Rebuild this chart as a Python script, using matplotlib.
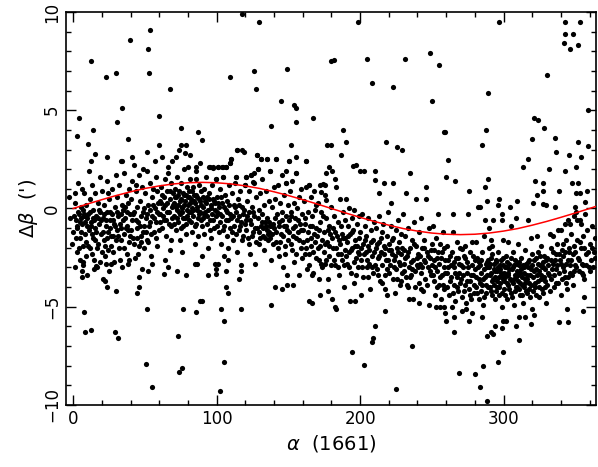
import numpy as np
import matplotlib
matplotlib.use("Agg")
import matplotlib.pyplot as plt
from matplotlib.ticker import MultipleLocator

# points well above the main band
top_pts = [
    (53.7, 9.10), (39.5, 8.59), (52.3, 8.10), (12.1, 7.51), (29.8, 6.90), (22.8, 6.70), (53.0, 6.90),
    (67.4, 6.10), (33.9, 5.10), (4.2, 4.59), (30.7, 4.39), (59.7, 4.70), (13.5, 4.00), (75.3, 4.11),
    (2.8, 3.70), (37.9, 3.53), (117.8, 9.89), (129.4, 9.49), (149.4, 7.08), (126.1, 7.00),
    (109.0, 6.70), (127.1, 6.10), (144.7, 5.49), (154.0, 5.29), (155.4, 5.10), (167.2, 4.59), (155.2, 4.39),
    (137.6, 4.19), (89.7, 3.50), (198.4, 9.49), (179.4, 7.49), (181.5, 7.57), (204.9, 7.59), (231.6, 7.59),
    (248.6, 7.89), (255.1, 7.30), (208.4, 6.39), (223.0, 6.19), (249.8, 5.49), (187.9, 4.00), (258.8, 3.88),
    (296.9, 9.49), (342.9, 9.49), (353.3, 9.49), (342.6, 8.89), (348.7, 8.89), (342.0, 8.40), (346.1, 8.10),
    (351.9, 8.30), (330.3, 6.80), (289.0, 5.90), (358.9, 5.00), (321.5, 4.59), (324.0, 4.49), (328.2, 4.11),
    (287.6, 4.00), (335.9, 3.61), (319.9, 3.53),
]

# upper edge of the band, left part
upper_left = [
    (10.0, 3.29), (60.0, 3.21), (75.1, 3.21), (78.5, 3.21), (51.4, 2.89), (15.4, 2.79), (23.9, 2.60),
    (33.0, 2.40), (34.2, 2.40), (12.3, 2.40), (81.3, 2.70), (79.7, 2.13), (11.2, 1.91), (86.7, 3.87),
    (114.5, 2.99), (118.0, 2.99), (151.5, 3.21), (177.2, 3.21), (127.8, 2.70), (130.8, 2.50), (135.4, 2.50),
    (141.7, 2.50), (109.9, 2.50), (109.6, 2.30), (85.9, 2.11), (95.2, 2.11), (97.6, 2.08), (101.0, 2.11),
    (104.0, 2.11), (106.4, 2.11), (150.3, 2.40), (162.1, 2.40), (148.7, 1.91), (137.0, 1.91), (128.9, 1.99),
    (124.3, 1.70), (120.3, 1.60), (126.1, 1.80), (113.8, 1.60), (99.9, 1.50), (104.5, 1.60), (85.7, 1.50),
    (155.6, 1.80), (164.5, 1.21), (171.9, 1.21), (176.5, 1.80), (148.7, 1.30), (119.6, 1.21), (125.4, 1.35),
]

# upper edge of the band, middle part
upper_mid = [
    (179.6, 3.21), (190.0, 3.38), (187.0, 2.70), (178.4, 2.11), (180.3, 1.91), (174.2, 1.26), (175.6, 1.18),
    (173.1, 0.84), (175.4, 0.67), (176.5, 0.42), (182.4, 1.52), (183.5, 1.09), (185.8, 0.50), (190.5, 0.50),
    (195.1, 2.14), (197.0, 2.23), (199.8, 1.89), (202.8, 1.89), (210.7, 1.89), (210.2, 1.43), (216.5, 1.31),
    (223.0, 1.31), (218.4, 3.38), (225.8, 3.12), (229.0, 2.99), (234.6, 1.80), (213.0, 0.81), (221.8, 0.30),
    (232.1, 0.81), (238.8, 0.50), (245.8, 0.50), (246.2, 1.09), (259.0, 3.89), (261.1, 2.48), (259.9, 1.60),
    (266.4, 1.40),
]

# upper edge of the band, right part
upper_right = [
    (284.8, 3.21), (336.4, 2.90), (351.9, 3.38), (358.9, 3.17), (345.7, 2.70), (354.3, 2.60), (317.3, 2.50),
    (313.8, 2.09), (331.5, 2.01), (342.6, 1.89), (350.5, 2.11), (275.7, 0.91), (286.9, 1.08), (289.2, 1.50),
    (321.7, 1.40), (327.8, 1.30), (327.8, 0.91), (323.4, 0.70), (338.7, 0.89), (348.0, 1.31), (352.2, 1.31),
    (350.3, 0.81), (353.6, 0.81), (358.4, 0.91), (288.7, 0.40), (296.6, 0.50), (309.4, 0.40), (320.3, 0.30),
    (327.5, 0.21), (356.8, 0.32), (282.2, 0.10), (283.9, 0.10), (275.3, -0.29), (265.0, -0.29), (296.2, 0.19),
    (299.2, -0.29), (304.3, 0.10), (329.9, 0.19), (335.9, 0.09), (349.6, 0.10), (350.3, -0.18), (356.6, -0.29),
    (349.2, -0.40), (351.2, -0.60), (286.9, -0.60), (292.9, -0.60), (299.2, -0.60), (309.0, -0.50),
    (317.3, -0.60), (289.9, -1.00), (305.2, -0.90), (342.6, -0.80), (345.0, -0.60), (346.1, -0.80),
    (353.1, -0.60), (354.3, -0.80), (338.0, -1.10), (340.3, -1.10), (332.2, -1.28), (334.5, -1.41),
    (264.8, -1.19), (286.4, -1.41), (318.9, -1.50), (323.4, -1.41), (299.7, -1.60), (291.5, -1.60),
    (278.3, -1.70), (281.1, -1.70), (273.0, -1.90), (270.9, -2.05),
]

# points below the band
low_pts = [
    (1.0, -2.98), (5.9, -3.19), (6.3, -3.49), (6.8, -2.70), (14.2, -3.10), (15.8, -2.92), (22.6, -2.80),
    (26.1, -2.80), (20.5, -3.59), (22.1, -3.68), (23.3, -4.00), (30.0, -4.19), (38.8, -2.63), (46.0, -3.49),
    (45.8, -4.00), (44.6, -4.31), (51.4, -5.10), (63.4, -3.31), (65.8, -3.00), (72.3, -3.20), (78.5, -3.41),
    (76.9, -5.10), (85.5, -5.29), (88.3, -4.71), (85.0, -2.80), (86.0, -2.80), (7.2, -5.29), (8.4, -6.28),
    (12.5, -6.20), (29.1, -6.28), (31.4, -6.61), (73.4, -6.50), (51.1, -7.89), (74.1, -8.30), (76.2, -8.10),
    (55.1, -9.09), (101.3, -2.80), (107.6, -2.63), (99.9, -3.10), (99.9, -3.31), (94.1, -3.39),
    (106.2, -3.20), (106.4, -4.00), (107.6, -4.31), (115.7, -3.59), (89.5, -4.69), (103.1, -5.10),
    (105.2, -5.71), (117.3, -5.10), (105.0, -7.79), (102.2, -9.30), (137.6, -4.90), (141.0, -4.00),
    (145.4, -4.10), (148.9, -3.90), (153.1, -3.90), (149.1, -3.41), (163.3, -3.10), (166.6, -3.41),
    (171.7, -3.59), (164.7, -4.69), (166.8, -4.80), (171.9, -4.39), (177.3, -4.19), (175.4, -2.80),
    (217.7, -5.20), (210.5, -6.00), (209.1, -6.61), (208.4, -6.79), (194.4, -7.30), (202.4, -7.99),
    (236.2, -6.99), (225.1, -9.19), (269.0, -8.38), (265.5, -6.30), (265.8, -5.51), (259.9, -5.71),
    (259.0, -5.34), (253.2, -5.00), (256.0, -5.00), (258.8, -5.00), (183.1, -5.10), (182.4, -5.00),
    (180.5, -4.59), (193.3, -4.73), (196.8, -4.73), (200.5, -4.39), (241.4, -4.80), (234.1, -4.59),
    (217.4, -4.10), (280.1, -8.40), (283.6, -9.09), (288.5, -9.80), (285.7, -8.01), (296.2, -7.79),
    (299.7, -7.30), (310.8, -6.71), (288.3, -6.50), (291.1, -6.30), (292.7, -6.40), (298.9, -6.10),
    (299.7, -5.71), (301.5, -5.71), (308.5, -6.00), (319.4, -5.90), (315.3, -5.51), (310.6, -5.51),
    (293.9, -6.00), (338.5, -5.79), (345.2, -5.79), (355.7, -5.20), (344.5, -5.10), (356.1, -4.49),
    (276.2, -5.71), (285.0, -5.51), (270.9, -5.20), (274.1, -5.10), (277.8, -5.30), (320.1, -5.10),
    (321.0, -5.41),
]

# main band, alpha 0-60
band_a = [
    (-3, 0.6), (-2, -0.5), (-1, -1.8), (0, -1.2), (1, 0.8), (1.5, 0.3), (2, -0.6), (2.5, -2.2), (3, -1.0),
    (3.5, 1.3), (4, -0.3), (4.5, -1.5), (5, -2.6), (5.5, 0.1), (6, 1.0), (6.2, -0.8), (6.8, -1.9), (7.5, 0.8),
    (7.8, -0.4), (8.3, -1.3), (8.8, -2.4), (9.2, 0.2), (9.6, -0.9), (9.9, -3.4), (3.2, -0.2), (5.2, -0.5),
    (7.0, -0.1), (8.0, -0.7),
    (10.5, -0.3), (11, -1.1), (11.5, 0.5), (12, -2.0), (12.5, -0.7), (13, 1.2), (13.5, -1.5), (14, -0.1),
    (14.5, -2.6), (15, 0.8), (15.5, -1.0), (16, -0.4), (16.5, -3.0), (17, 0.3), (17.5, -1.8), (18, -0.8),
    (18.5, 1.6), (19, -0.2), (19.5, -1.3), (19.8, -2.2), (12.8, -1.3), (14.8, -0.6), (17.2, -0.5),
    (20.3, 0.9), (20.8, -0.5), (21.3, -1.6), (21.8, 0.2), (22.3, -2.4), (22.8, -0.9), (23.3, 1.4), (23.8, -0.2),
    (24.3, -1.2), (24.8, -3.2), (25.3, 0.5), (25.8, -0.6), (26.3, -1.9), (26.8, 1.0), (27.3, -0.3),
    (27.8, -1.4), (28.3, -2.7), (28.8, 0.1), (29.3, -0.9), (29.8, 1.7), (24.0, 0.8), (26.0, -1.0), (28.0, -0.6),
    (30.2, -1.1), (30.7, 0.6), (31.2, -0.4), (31.7, -2.0), (32.2, 1.2), (32.7, -0.8), (33.2, -1.6), (33.7, 0.2),
    (34.2, -3.0), (34.7, -0.1), (35.2, 1.8), (35.7, -1.3), (36.2, -0.5), (36.7, 0.7), (37.2, -2.3),
    (37.7, -0.9), (38.2, 0.3), (38.7, -1.7), (39.2, 1.0), (39.7, -0.3), (33.0, -0.3), (36.0, 0.1), (38.0, -1.1),
    (40.2, 0.5), (40.7, -0.6), (41.2, 1.4), (41.7, -1.5), (42.2, -0.2), (42.7, 2.2), (43.2, -2.5), (43.7, 0.9),
    (44.2, -1.0), (44.7, 0.1), (45.2, -0.7), (45.7, 1.7), (46.2, -1.9), (46.7, 0.4), (47.2, -0.4),
    (47.7, -3.1), (48.2, 1.1), (48.7, -1.2), (49.2, 0.0), (49.7, -0.9), (41.0, 2.6), (44.0, 1.2), (47.0, -1.4),
    (49.0, 2.0),
    (50.2, 0.8), (50.7, -0.5), (51.2, 1.9), (51.7, -1.6), (52.2, 0.2), (52.7, -0.9), (53.2, 1.3), (53.7, -0.1),
    (54.2, -2.4), (54.7, 0.6), (55.2, -0.4), (55.7, 1.0), (56.2, -1.2), (56.7, 2.4), (57.2, 0.0), (57.7, -0.7),
    (58.2, 0.9), (58.7, -1.9), (59.2, 0.3), (59.7, -0.3), (52.0, -3.2), (55.0, -2.8), (58.0, 1.6),
]

# main band, alpha 60-120
band_b = [
    (60.2, 0.4), (60.7, -0.3), (61.2, 1.1), (61.7, -1.0), (62.2, 0.7), (62.7, 0.0), (63.2, -0.6), (63.7, 1.5),
    (64.2, 0.2), (64.7, -1.4), (65.2, 0.9), (65.7, -0.2), (66.2, 2.1), (66.7, -0.8), (67.2, 0.5), (67.7, -2.1),
    (68.2, 1.3), (68.7, 0.1), (69.2, -0.5), (69.7, 0.8), (62.0, 2.6), (64.0, -2.6), (66.0, 1.8), (68.0, -1.6),
    (69.0, 2.4),
    (70.2, 0.3), (70.6, -0.4), (71.0, 1.0), (71.4, -1.1), (71.8, 0.6), (72.2, -0.1), (72.6, 1.6), (73.0, 0.2),
    (73.4, -0.7), (73.8, 0.9), (74.2, -0.3), (74.6, -1.6), (75.0, 0.5), (75.4, 1.3), (75.8, -0.2), (76.2, 0.0),
    (76.6, -0.9), (77.0, 0.7), (77.4, 2.0), (77.8, -0.5), (78.2, 0.4), (78.6, -1.3), (79.0, 1.1), (79.4, -0.1),
    (79.8, 0.6), (72.0, 2.6), (76.0, -2.2), (78.0, 2.8), (74.0, 3.0),
    (80.2, 0.2), (80.6, -0.6), (81.0, 0.9), (81.4, 1.5), (81.8, -0.2), (82.2, 0.5), (82.6, -1.2), (83.0, 0.0),
    (83.4, 1.1), (83.8, -0.4), (84.2, 0.7), (84.6, -1.8), (85.0, 0.3), (85.4, 1.9), (85.8, -0.8), (86.2, -0.1),
    (86.6, 0.6), (87.0, -1.4), (87.4, 1.2), (87.8, -0.3), (88.2, 0.4), (88.6, 2.3), (89.0, -0.6), (89.4, 0.9),
    (89.8, -2.4),
    (90.2, 0.1), (90.6, -0.5), (91.0, 1.0), (91.4, -1.3), (91.8, 0.4), (92.2, -0.2), (92.6, 1.6), (93.0, -0.8),
    (93.4, 0.6), (93.8, -2.0), (94.2, -0.1), (94.6, 0.8), (95.0, 2.1), (95.4, -0.6), (95.8, 0.2), (96.2, -1.5),
    (96.6, 1.2), (97.0, -0.3), (97.4, 2.1), (97.8, 0.5), (98.2, -1.0), (98.6, -2.8), (99.0, 0.3), (99.4, -0.4),
    (99.8, 1.5),
    (100.2, -0.2), (100.6, 0.6), (101.0, 2.1), (101.4, -1.2), (101.8, 0.1), (102.2, -0.7), (102.6, 1.0),
    (103.0, -1.8), (103.4, 0.3), (103.8, -0.4), (104.2, 2.1), (104.6, 1.6), (105.0, -2.4), (105.4, -0.9),
    (105.8, 0.7), (106.2, -0.1), (106.6, 2.1), (107.0, -1.4), (107.4, 0.4), (107.8, -2.0), (108.2, -0.6),
    (108.6, 1.2), (109.0, -0.3), (109.6, 2.3), (109.9, 2.5),
    (110.3, -0.5), (110.8, 0.8), (111.3, -1.6), (111.8, 0.2), (112.3, -0.9), (112.8, 1.3), (113.3, -0.2),
    (113.8, 1.6), (114.3, -2.2), (114.8, 0.5), (115.3, -1.1), (115.8, -0.4), (116.3, 0.9), (116.8, -2.9),
    (117.3, -0.7), (117.8, 0.1), (118.3, -1.4), (118.8, 2.9), (119.3, -0.1), (119.8, 1.2), (114.5, 3.0),
    (117.0, -3.2),
]

# main band, alpha 120-180
band_c = [
    (120.3, 1.6), (120.8, -0.6), (121.3, 0.4), (121.8, -1.5), (122.3, -0.2), (122.8, 0.9), (123.3, -2.3),
    (123.8, -0.8), (124.3, 1.7), (124.8, 0.1), (125.3, -1.2), (125.8, 1.3), (126.3, -0.4), (126.8, -2.8),
    (127.3, 0.6), (127.8, 2.7), (128.3, -1.0), (128.8, 2.0), (129.3, -0.1), (129.8, -1.8), (130.8, 2.5),
    (130.3, 0.8), (130.8, -0.9), (131.3, -0.3), (131.8, 1.5), (132.3, -1.4), (132.8, 0.2), (133.3, -2.1),
    (133.8, -0.7), (134.3, 0.9), (134.8, -1.1), (135.3, -0.5), (135.4, 2.5), (135.8, -1.6), (136.3, 0.4),
    (136.8, -1.2), (137.0, 1.9), (137.3, -0.9), (137.8, -2.6), (138.3, -1.3), (138.8, 0.1), (139.3, -0.8),
    (139.8, 1.1),
    (140.3, -1.0), (140.8, 0.5), (141.3, -1.7), (141.7, 2.5), (142.3, -0.3), (142.8, 1.2), (143.3, -2.4),
    (143.8, -0.7), (144.3, 0.3), (144.8, -1.3), (145.3, 1.7), (145.8, -0.2), (146.3, -3.0), (146.8, -0.9),
    (147.3, 0.7), (147.8, -1.9), (148.3, -0.4), (148.7, 1.3), (149.3, -1.1), (149.8, 0.2), (150.3, 2.4),
    (150.6, -0.6), (151.1, 0.9), (151.6, -1.8), (152.1, -0.2), (152.6, 1.4), (153.1, -1.0), (153.6, -2.7),
    (154.1, 0.3), (154.6, -0.5), (155.1, -1.5), (155.6, 1.8), (156.1, 0.0), (156.6, -1.2), (157.1, -3.4),
    (157.6, 0.6), (158.1, -0.8), (158.6, -2.0), (159.1, 1.0), (159.6, -0.3), (155.0, 2.6),
    (160.3, -1.1), (160.8, 0.4), (161.3, -2.3), (161.8, -0.5), (162.1, 2.4), (162.6, 1.1), (163.1, -1.6),
    (163.6, -0.2), (164.1, -2.9), (164.5, 1.2), (165.1, -0.9), (165.6, 0.6), (166.1, -1.9), (166.6, -0.4),
    (167.1, -3.3), (167.6, 0.9), (168.1, -1.3), (168.6, -0.1), (169.1, -2.5), (169.6, 0.2),
    (170.3, -1.4), (170.8, 0.3), (171.3, -2.6), (171.8, -0.7), (172.3, -1.9), (172.8, -0.2), (173.6, -3.0),
    (174.6, -1.2), (175.1, -2.2), (176.1, -0.5), (177.1, -1.7), (177.6, -3.6), (178.1, -0.9), (178.6, -2.4),
    (179.1, -1.3), (179.6, 0.1),
]

# main band, alpha 180-260
band_d = [
    (180.8, -1.0), (181.3, -2.0), (181.8, -0.4), (182.8, -2.9), (183.8, -1.4), (184.3, -0.7), (184.8, -2.3),
    (185.3, -3.4), (186.3, -1.8), (186.8, -0.9), (187.3, -2.6), (187.8, -0.2), (188.3, -1.5), (188.8, -4.0),
    (189.3, -2.1), (189.8, -0.6),
    (190.6, -1.7), (191.1, -2.8), (191.6, -0.9), (192.1, -2.2), (192.6, 0.0), (193.1, -1.3), (193.6, -3.3),
    (194.1, -0.5), (194.6, -2.0), (195.1, -1.1), (195.6, -3.8), (196.1, -0.1), (196.6, -1.6), (197.1, -2.5),
    (197.6, -0.8), (198.1, -1.9), (198.6, -3.0), (199.1, -0.4), (199.6, -2.3),
    (200.3, -1.2), (200.8, -2.6), (201.3, -0.3), (201.8, -1.8), (202.3, -3.5), (203.3, -0.9), (203.8, -2.2),
    (204.3, -1.4), (204.8, -3.0), (205.3, -0.5), (205.8, -1.9), (206.3, -2.8), (206.8, -4.1), (207.3, -1.1),
    (208.3, -2.4), (208.8, -1.6), (209.3, -3.3), (209.8, -0.7),
    (210.9, -2.0), (211.4, -1.0), (211.9, -3.1), (212.4, -2.5), (212.9, -0.4), (213.5, -1.7), (214.0, -3.7),
    (214.5, -2.2), (215.0, -1.2), (215.5, -2.9), (216.0, -0.8), (217.0, -1.9), (217.5, -3.4), (218.0, -2.6),
    (218.5, -1.4), (219.0, -4.4), (219.5, -0.2), (219.9, -2.1),
    (220.3, -1.8), (220.8, -2.9), (221.3, -0.9), (222.3, -2.3), (222.8, -3.6), (223.3, -1.5), (223.8, -2.6),
    (224.3, -4.3), (224.8, -1.1), (225.3, -3.1), (225.8, -2.0), (226.3, -0.6), (226.8, -2.7), (227.3, -1.7),
    (227.8, -3.9), (228.3, -2.3), (228.8, -1.3), (229.3, -3.3), (229.8, -0.3),
    (230.3, -2.1), (230.8, -2.8), (231.3, -1.4), (231.8, -3.5), (232.6, -2.4), (233.1, -4.0), (233.6, -1.0),
    (234.1, -3.0), (235.1, -2.0), (235.6, -3.4), (236.1, -1.6), (236.6, -4.6), (237.1, -2.6), (237.6, -0.7),
    (238.1, -3.2), (239.1, -1.9), (239.6, -2.9),
    (240.3, -2.3), (240.8, -3.8), (241.3, -1.2), (241.8, -2.8), (242.3, -3.3), (242.8, -0.5), (243.3, -2.0),
    (243.8, -4.2), (244.3, -2.6), (244.8, -1.6), (245.3, -3.6), (246.8, -2.2), (247.3, -3.0), (247.8, -1.0),
    (248.3, -4.9), (248.8, -2.5), (249.3, -3.4), (249.8, -1.8),
    (250.3, -2.9), (250.8, -0.9), (251.3, -3.7), (251.8, -2.1), (252.3, -4.4), (252.8, -1.5), (253.3, -3.2),
    (253.8, -2.5), (254.3, -0.3), (254.8, -3.9), (255.3, -2.8), (255.8, -1.8), (256.3, -4.6), (256.8, -3.4),
    (257.3, -2.2), (257.8, -1.2), (258.3, -3.0), (258.8, -4.1), (259.3, -2.6),
]

# main band, alpha 260-365
band_e = [
    (260.3, -1.9), (260.8, -3.3), (261.3, -2.6), (261.8, -4.4), (262.8, -3.7), (263.3, -2.9), (263.8, -5.0),
    (264.3, -2.2), (265.3, -3.9), (265.8, -3.0), (266.3, -4.7), (266.8, -2.5), (267.3, -3.5), (267.8, -1.7),
    (268.3, -4.2), (268.8, -2.8), (269.3, -3.3), (269.8, -2.0),
    (270.3, -3.6), (271.3, -4.5), (271.8, -3.0), (272.3, -2.4), (273.3, -3.9), (273.8, -4.8), (274.3, -2.7),
    (274.8, -3.3), (275.8, -4.1), (276.3, -2.2), (276.8, -3.7), (277.3, -4.6), (277.8, -2.9), (278.8, -3.4),
    (279.3, -4.3), (279.8, -2.6),
    (280.3, -3.1), (280.8, -4.0), (281.6, -2.5), (282.6, -3.6), (283.1, -4.6), (283.6, -2.9), (284.3, -3.3),
    (284.8, -3.9), (285.3, -2.2), (285.8, -4.9), (287.3, -3.5), (287.8, -4.3), (288.3, -2.7), (288.8, -3.0),
    (289.3, -4.0), (289.6, -2.0),
    (290.3, -3.4), (290.8, -2.8), (291.3, -4.2), (291.8, -3.7), (292.3, -2.3), (293.3, -3.1), (293.8, -4.6),
    (294.3, -3.5), (294.8, -2.6), (295.3, -4.0), (295.8, -3.2), (296.8, -4.4), (297.3, -2.9), (297.8, -3.8),
    (298.3, -3.3), (298.8, -5.0), (299.3, -2.5), (299.8, -3.6), (292.0, -1.9), (296.0, -2.2),
    (300.3, -4.1), (300.8, -3.0), (301.3, -3.5), (301.8, -2.4), (302.3, -4.6), (302.8, -3.3), (303.3, -3.9),
    (303.8, -2.8), (304.6, -3.6), (305.4, -4.3), (305.8, -3.1), (306.3, -2.2), (306.8, -3.8), (307.3, -4.9),
    (307.8, -3.4), (308.3, -2.6), (308.8, -4.0), (309.3, -3.2), (309.8, -1.8), (303.0, -1.7),
    (310.3, -3.7), (310.8, -2.9), (311.3, -4.4), (311.8, -3.3), (312.3, -2.5), (312.8, -3.9), (313.3, -4.8),
    (314.3, -3.0), (314.8, -3.6), (315.3, -2.1), (315.8, -4.2), (316.3, -3.4), (316.8, -2.7), (317.8, -3.8),
    (318.3, -4.5), (319.3, -3.1), (319.8, -2.3),
    (320.8, -3.5), (321.3, -2.6), (322.3, -4.0), (322.8, -3.1), (323.8, -2.2), (324.3, -3.7), (324.8, -4.5),
    (325.3, -2.9), (325.8, -3.4), (326.3, -1.9), (326.8, -4.1), (327.8, -3.0), (328.3, -2.4), (328.8, -3.7),
    (329.3, -4.8),
    (330.3, -2.5), (330.8, -3.3), (332.8, -2.0), (333.3, -3.6), (334.8, -2.8), (335.3, -4.0), (336.3, -2.3),
    (336.8, -3.1), (337.3, -1.8), (338.3, -3.8), (339.3, -2.6), (339.8, -4.4),
    (340.8, -2.1), (341.3, -3.0), (341.8, -2.4), (342.9, -3.5), (343.4, -1.6), (343.9, -2.8), (344.4, -4.1),
    (345.4, -2.2), (346.4, -3.3), (346.9, -1.3), (347.4, -2.6), (348.4, -3.9), (348.9, -1.9), (349.9, -2.9),
    (351.4, -1.6), (351.9, -2.5), (352.4, -3.2), (353.9, -2.0), (354.9, -2.8), (355.4, -1.4), (355.7, -3.4),
    (356.0, -3.6), (357.4, -2.3), (358.0, -1.1), (359.5, -3.0), (360.2, -1.8), (361.0, -2.6), (362.0, -0.9),
    (363.0, -2.2), (364.0, -1.5), (355.7, -2.9),
]

# core of the band, where the dots overlap most
core_a = [
    (0.5, -0.4), (1.8, -1.5), (2.7, -0.9), (3.8, -2.0), (4.6, -0.7), (5.7, -1.2), (6.5, -2.9), (7.3, -0.3),
    (8.6, -1.7), (9.4, -0.5), (10.2, -1.9), (11.8, -0.2), (12.2, -0.9), (13.2, -2.3), (13.8, -0.5),
    (15.2, -1.6), (16.2, -1.2), (16.8, -2.0), (17.8, -0.1), (18.7, -2.7), (19.2, -0.6), (20.5, -1.2),
    (21.5, -0.3), (22.0, -1.9), (23.0, -0.6), (23.5, -1.5), (24.5, -2.1), (25.5, -0.2), (26.5, -1.4),
    (27.5, -2.2), (28.5, -0.8), (29.5, -1.6), (30.5, -0.2), (31.5, -1.4), (32.5, -2.6), (33.5, -1.0),
    (34.5, -0.6), (35.5, -2.0), (36.5, -1.0), (37.5, -0.2), (38.5, -2.8), (39.5, -1.4), (40.5, -1.1),
    (41.5, -0.3), (42.5, -1.8), (43.5, -0.6), (44.5, -1.5), (45.5, -2.3), (46.5, -0.9), (47.5, -1.7),
    (48.5, -0.2), (49.5, -2.0), (50.5, -1.2), (51.5, -0.3), (52.5, -1.7), (53.5, -0.7), (54.5, -1.3),
    (55.5, 0.2), (56.5, -0.5), (57.5, -1.5), (58.5, -0.2), (59.5, -1.1),
    (60.5, -0.7), (61.5, 0.3), (62.5, -0.4), (63.5, 0.6), (64.5, -0.6), (65.5, 0.3), (66.5, -0.2), (67.5, 0.9),
    (68.5, -0.9), (69.5, 0.2), (70.4, -0.8), (70.9, 0.6), (71.6, 0.1), (72.4, -0.5), (72.9, 0.7), (73.6, -0.2),
    (74.4, 0.4), (74.9, -1.0), (75.6, 0.1), (76.4, 0.8), (76.9, -0.5), (77.6, 0.2), (78.4, -0.8), (78.9, 0.7),
    (79.6, -0.4), (80.4, 0.6), (80.9, -0.2), (81.6, 0.3), (82.4, -0.7), (82.9, 0.9), (83.6, -0.1), (84.4, 0.4),
    (84.9, -0.9), (85.6, 0.7), (86.4, 0.1), (86.9, -0.5), (87.6, 0.5), (88.4, -0.2), (88.9, 0.2), (89.6, -0.9),
    (90.4, 0.6), (91.2, -0.3), (92.4, 0.3), (93.2, -0.4), (94.4, 0.5), (95.2, -1.1), (96.4, 0.0), (97.2, -0.6),
    (98.4, 0.4), (99.2, -0.1), (100.4, -0.9), (101.2, 0.3), (102.4, -0.3), (103.2, 0.6), (104.4, -1.1),
    (105.2, 0.1), (106.4, -0.6), (107.2, -0.2), (108.4, 0.2), (109.2, -1.0), (110.5, -1.2), (111.5, -0.4),
    (112.5, 0.1), (113.5, -1.3), (114.5, -0.6), (115.5, 0.2), (116.5, -0.9), (117.5, -1.6), (118.5, -0.3),
    (119.5, -0.8),
]

core_b = [
    (120.5, -1.1), (121.5, -0.4), (122.5, -1.8), (123.5, -0.6), (124.5, -1.4), (125.5, -0.2), (126.5, -1.0),
    (127.5, -1.7), (128.5, -0.5), (129.5, -1.2), (130.5, -1.5), (131.5, -0.7), (132.5, -1.0), (133.5, -1.5),
    (134.5, -0.9), (135.5, -1.3), (136.5, -0.7), (137.5, -1.5), (138.5, -0.9), (139.5, -1.8), (140.5, -0.5),
    (141.5, -1.2), (142.5, -2.0), (143.5, -0.9), (144.5, -1.7), (145.5, -0.6), (146.5, -1.4), (147.5, -2.3),
    (148.5, -0.9), (149.5, -1.6), (150.5, -1.2), (151.5, -0.4), (152.5, -2.1), (153.5, -1.4), (154.5, -0.9),
    (155.5, -2.3), (156.5, -0.6), (157.5, -1.6), (158.5, -1.1), (159.5, -2.5), (160.5, -1.7), (161.5, -0.8),
    (162.5, -2.0), (163.5, -1.2), (164.5, -2.3), (165.5, -1.5), (166.5, -0.9), (167.5, -2.2), (168.5, -1.7),
    (169.5, -1.0), (170.5, -2.0), (171.5, -1.1), (172.5, -2.8), (173.5, -1.6), (174.5, -0.4), (175.5, -1.8),
    (176.5, -2.6), (177.5, -1.1), (178.5, -1.9), (179.5, -2.9), (180.5, -1.5), (181.5, -2.6), (182.5, -1.2),
    (183.5, -2.0), (184.5, -3.0), (185.5, -1.6), (186.5, -2.3), (187.5, -1.3), (188.5, -2.9), (189.5, -1.5),
    (190.5, -2.4), (191.5, -1.4), (192.5, -3.0), (193.5, -2.1), (194.5, -1.2), (195.5, -2.7), (196.5, -1.9),
    (197.5, -3.4), (198.5, -2.2), (199.5, -1.5),
    (200.5, -2.0), (201.5, -3.0), (202.5, -2.3), (203.5, -1.6), (204.5, -2.6), (205.5, -3.5), (206.5, -2.1),
    (207.5, -1.7), (208.5, -3.0), (209.5, -2.2), (210.5, -2.9), (211.5, -1.8), (212.5, -3.4), (213.5, -2.4),
    (214.5, -1.5), (215.5, -3.8), (216.5, -2.3), (217.5, -2.0), (218.5, -3.1), (219.5, -2.6), (220.5, -3.3),
    (221.5, -2.1), (222.5, -1.6), (223.5, -3.0), (224.5, -2.4), (225.5, -3.6), (226.5, -2.2), (227.5, -2.9),
    (228.5, -3.7), (229.5, -2.0), (230.5, -3.2), (231.5, -2.5), (232.5, -3.9), (233.5, -2.2), (234.5, -3.5),
    (235.5, -2.7), (236.5, -3.1), (237.5, -1.8), (238.5, -4.0), (239.5, -2.5), (240.5, -3.0), (241.5, -2.4),
    (242.5, -4.1), (243.5, -3.0), (244.5, -2.0), (245.5, -2.7), (246.5, -3.9), (247.5, -2.4), (248.5, -3.2),
    (249.5, -2.1), (250.5, -3.4), (251.5, -2.6), (252.5, -3.0), (253.5, -4.0), (254.5, -2.2), (255.5, -3.5),
    (256.5, -2.5), (257.5, -3.9), (258.5, -2.0), (259.5, -3.3), (260.5, -4.0), (261.5, -3.0), (262.5, -2.4),
    (263.5, -3.5), (264.5, -4.3), (265.5, -2.7), (266.5, -3.3), (267.5, -4.0), (268.5, -2.5), (269.5, -3.8),
    (270.5, -2.9), (271.5, -3.4), (272.5, -4.2), (273.5, -2.5), (274.5, -3.7), (275.5, -3.0), (276.5, -4.4),
    (277.5, -3.4), (278.5, -2.4), (279.5, -3.9),
]

core_c = [
    (280.5, -3.5), (281.3, -4.3), (282.0, -3.0), (282.8, -2.7), (283.4, -3.8), (284.1, -4.2), (284.6, -2.6),
    (285.5, -3.6), (286.2, -3.1), (286.7, -4.5), (287.5, -2.8), (288.1, -3.9), (288.6, -3.4), (289.5, -2.6),
    (290.1, -3.0), (290.6, -4.0), (291.1, -3.3), (291.6, -2.5), (292.1, -4.4), (292.6, -3.6), (293.1, -2.8),
    (293.6, -3.9), (294.1, -3.2), (294.6, -4.2), (295.1, -2.7), (295.6, -3.7), (296.1, -3.0), (296.6, -3.5),
    (297.1, -4.0), (297.6, -3.1), (298.1, -2.6), (298.6, -4.3), (299.1, -3.4), (299.6, -2.9), (300.1, -3.7),
    (300.6, -3.3), (301.1, -4.4), (301.6, -3.0), (302.1, -3.8), (302.6, -2.7), (303.1, -3.4), (303.6, -4.1),
    (304.1, -3.1), (304.9, -2.5), (305.6, -3.7), (306.1, -4.5), (306.6, -3.0), (307.1, -3.6), (307.6, -2.9),
    (308.1, -4.2), (308.6, -3.5), (309.1, -2.8), (309.6, -4.0), (310.1, -3.4), (310.6, -4.1), (311.1, -2.7),
    (311.6, -3.8), (312.1, -3.1), (312.6, -4.4), (313.1, -3.5), (313.6, -2.9), (314.1, -4.0), (314.6, -3.3),
    (315.1, -3.8), (315.6, -2.8), (316.1, -4.3), (316.6, -3.6), (317.1, -3.0), (317.6, -4.1), (318.1, -2.6),
    (318.6, -3.4), (319.1, -3.9), (319.6, -2.9), (320.5, -4.2), (321.0, -3.2), (321.8, -3.8), (322.5, -2.5),
    (323.0, -4.4), (323.6, -3.4), (324.0, -2.8), (324.6, -3.2), (325.0, -4.0), (325.6, -2.4), (326.0, -3.6),
    (326.6, -3.0), (327.2, -4.3), (327.6, -2.7), (328.0, -3.5), (328.6, -4.0), (329.0, -3.1), (329.6, -2.6),
    (330.6, -3.9), (331.2, -2.9), (331.8, -3.4), (332.4, -4.2), (333.0, -2.6), (333.8, -3.1), (334.2, -2.2),
    (335.0, -3.4), (335.8, -2.6), (336.6, -3.8), (337.6, -2.9), (338.6, -2.3), (339.0, -3.3), (340.0, -2.8),
    (340.5, -3.6), (341.6, -1.8), (342.2, -3.2), (343.0, -2.2), (343.6, -3.8), (344.8, -2.6), (345.2, -3.5),
    (346.0, -2.0), (346.6, -2.9), (347.6, -3.4), (348.2, -2.3), (349.0, -3.2), (350.0, -2.2), (350.8, -3.0),
    (352.8, -2.6), (353.4, -1.7), (354.4, -3.3), (356.4, -2.0), (357.8, -2.9), (359.0, -2.2), (360.6, -3.2),
    (361.6, -2.0), (362.6, -3.0), (363.6, -2.5),
]

curve_x = [0, 10, 20, 30, 40, 50, 60, 70, 80, 90, 100, 110, 120, 130, 140, 150, 160, 170, 180,
           190, 200, 210, 220, 230, 240, 250, 260, 270, 280, 290, 300, 310, 320, 330, 340, 350, 360, 365]
curve_y = [0.0, 0.23, 0.45, 0.66, 0.85, 1.02, 1.15, 1.25, 1.31, 1.33, 1.31, 1.25, 1.15, 1.02, 0.85,
           0.66, 0.45, 0.23, 0.0, -0.23, -0.45, -0.66, -0.85, -1.02, -1.15, -1.25, -1.31, -1.33, -1.31,
           -1.25, -1.15, -1.02, -0.85, -0.66, -0.45, -0.23, 0.0, 0.12]

groups = [top_pts, upper_left, upper_mid, upper_right, low_pts,
          band_a, band_b, band_c, band_d, band_e, core_a, core_b, core_c]
pts = np.array([p for g in groups for p in g])

plt.rcParams["font.family"] = ["DejaVu Sans"]
fig = plt.figure(figsize=(5.98, 4.67), dpi=100)
ax = fig.add_axes([0.1104, 0.1328, 0.8863, 0.8415])

ax.scatter(pts[:, 0], pts[:, 1], s=14, c="black", linewidths=0, zorder=2)
ax.plot(curve_x, curve_y, color="red", lw=1.1, zorder=3)

ax.set_xlim(-5, 364.5)
ax.set_ylim(-10, 10)
ax.xaxis.set_major_locator(MultipleLocator(100))
ax.xaxis.set_minor_locator(MultipleLocator(20))
ax.yaxis.set_major_locator(MultipleLocator(5))
ax.yaxis.set_minor_locator(MultipleLocator(1))
ax.tick_params(which="both", direction="in", top=True, right=True, width=1.0, labelsize=12)
ax.tick_params(which="major", length=7)
ax.tick_params(which="minor", length=3.5)
for lab in ax.get_yticklabels():
    lab.set_rotation(90)
    lab.set_va("center")
for sp in ax.spines.values():
    sp.set_linewidth(1.2)

ax.set_xlabel(r"$\alpha$  (1661)", fontsize=14, labelpad=4)
ax.set_ylabel(r"$\Delta\beta$  (')", fontsize=14, labelpad=2)

fig.savefig("out.png", dpi=100)
